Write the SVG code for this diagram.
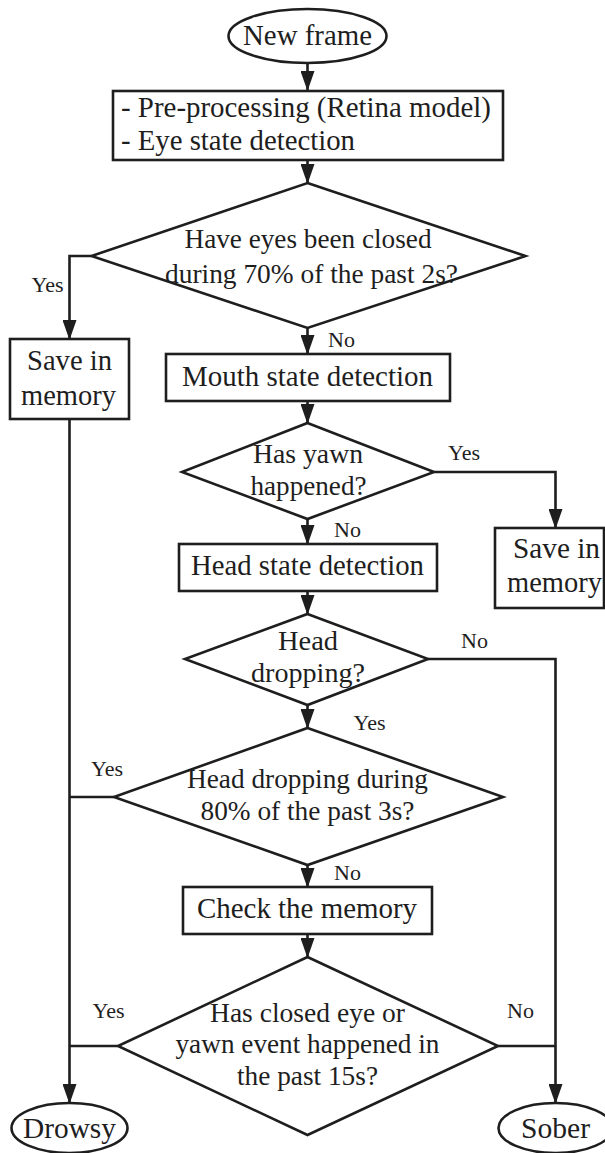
<svg xmlns="http://www.w3.org/2000/svg" width="605" height="1153" viewBox="0 0 605 1153">
<style>
.s{fill:#fff;stroke:#1e1e1e;stroke-width:2.6}
.t{font-family:"Liberation Serif","Times New Roman",serif;font-size:29px;fill:#1e1e1e;text-anchor:middle}
.d{font-size:27.5px}
.l{font-family:"Liberation Serif","Times New Roman",serif;font-size:22px;fill:#1e1e1e;text-anchor:middle}
.c{fill:none;stroke:#1e1e1e;stroke-width:2.6}
</style>
<defs>
<marker id="b" markerUnits="userSpaceOnUse" markerWidth="20" markerHeight="14" refX="19" refY="7" orient="auto" viewBox="0 0 20 14">
<path d="M0,0 L20,7 L0,14 Z" fill="#1e1e1e"/>
</marker>
</defs>
<rect width="605" height="1153" fill="#fff"/>
<g id="connectors">
<path class="c" d="M307.5,63 V90" marker-end="url(#b)"/>
<path class="c" d="M307.5,160 V183" marker-end="url(#b)"/>
<path class="c" d="M91.5,256 H69.5 V339" marker-end="url(#b)"/>
<path class="c" d="M307.5,328 V354" marker-end="url(#b)"/>
<path class="c" d="M307.5,401 V423" marker-end="url(#b)"/>
<path class="c" d="M434,472 H555.5 V528" marker-end="url(#b)"/>
<path class="c" d="M307.5,519 V544" marker-end="url(#b)"/>
<path class="c" d="M307.5,591 V614" marker-end="url(#b)"/>
<path class="c" d="M428,659 H555.5 V1103" marker-end="url(#b)"/>
<path class="c" d="M307.5,705 V728" marker-end="url(#b)"/>
<path class="c" d="M69.5,419 V1103" marker-end="url(#b)"/>
<path class="c" d="M114,797 H69.5"/>
<path class="c" d="M307.5,865 V887" marker-end="url(#b)"/>
<path class="c" d="M307.5,934 V957" marker-end="url(#b)"/>
<path class="c" d="M118,1046 H69.5"/>
<path class="c" d="M498,1046 H555.5"/>
<text class="l" x="47.5" y="292">Yes</text>
<text class="l" x="341.5" y="347">No</text>
<text class="l" x="464" y="460">Yes</text>
<text class="l" x="347.5" y="537">No</text>
<text class="l" x="474.5" y="648">No</text>
<text class="l" x="369.5" y="730">Yes</text>
<text class="l" x="107" y="776">Yes</text>
<text class="l" x="347.5" y="880">No</text>
<text class="l" x="108.5" y="1018">Yes</text>
<text class="l" x="520.5" y="1018">No</text>
</g>
<g id="new-frame">
<ellipse class="s" cx="307.5" cy="36" rx="79" ry="27"/>
<text class="t" x="307.5" y="45" textLength="129" lengthAdjust="spacingAndGlyphs">New frame</text>
</g>
<g id="preprocessing">
<rect class="s" x="113" y="91" width="390" height="69"/>
<text class="t" x="121" y="117" style="text-anchor:start" textLength="370" lengthAdjust="spacingAndGlyphs">- Pre-processing (Retina model)</text>
<text class="t" x="121" y="150" style="text-anchor:start" textLength="234" lengthAdjust="spacingAndGlyphs">- Eye state detection</text>
</g>
<g id="eyes-closed">
<polygon class="s" points="307.5,183 525.5,256 307.5,328 91.5,256"/>
<text class="t d" x="308" y="248" textLength="247" lengthAdjust="spacingAndGlyphs">Have eyes been closed</text>
<text class="t d" x="311.5" y="283" textLength="293" lengthAdjust="spacingAndGlyphs">during 70% of the past 2s?</text>
</g>
<g id="save-left">
<rect class="s" x="10" y="339" width="119" height="80"/>
<text class="t" x="69.5" y="370" textLength="85" lengthAdjust="spacingAndGlyphs">Save in</text>
<text class="t" x="68.5" y="405" textLength="95" lengthAdjust="spacingAndGlyphs">memory</text>
</g>
<g id="mouth">
<rect class="s" x="166" y="354" width="284" height="47"/>
<text class="t" x="307.5" y="386" textLength="251" lengthAdjust="spacingAndGlyphs">Mouth state detection</text>
</g>
<g id="yawn">
<polygon class="s" points="307.5,423 434,472 307.5,519 182,472"/>
<text class="t d" x="308" y="463" textLength="110" lengthAdjust="spacingAndGlyphs">Has yawn</text>
<text class="t d" x="308.5" y="495" textLength="116" lengthAdjust="spacingAndGlyphs">happened?</text>
</g>
<g id="save-right">
<rect class="s" x="495" y="528" width="109" height="80"/>
<text class="t" x="556.5" y="558" textLength="87" lengthAdjust="spacingAndGlyphs">Save in</text>
<text class="t" x="554.5" y="592" textLength="95" lengthAdjust="spacingAndGlyphs">memory</text>
</g>
<g id="head-state">
<rect class="s" x="179" y="544" width="258" height="47"/>
<text class="t" x="307.5" y="575" textLength="233" lengthAdjust="spacingAndGlyphs">Head state detection</text>
</g>
<g id="head-dropping">
<polygon class="s" points="307.5,614 428,659 307.5,705 185,659"/>
<text class="t d" x="308" y="650" textLength="60" lengthAdjust="spacingAndGlyphs">Head</text>
<text class="t d" x="308" y="682" textLength="114" lengthAdjust="spacingAndGlyphs">dropping?</text>
</g>
<g id="head-dropping-80">
<polygon class="s" points="307.5,728 503,797 307.5,865 114,797"/>
<text class="t d" x="307.5" y="788" textLength="241" lengthAdjust="spacingAndGlyphs">Head dropping during</text>
<text class="t d" x="307.5" y="820" textLength="214" lengthAdjust="spacingAndGlyphs">80% of the past 3s?</text>
</g>
<g id="check-memory">
<rect class="s" x="183" y="887" width="249" height="47"/>
<text class="t" x="307" y="918" textLength="220" lengthAdjust="spacingAndGlyphs">Check the memory</text>
</g>
<g id="event-15s">
<polygon class="s" points="307.5,957 498,1046 307.5,1135 118,1046"/>
<text class="t d" x="307.5" y="1022" textLength="195" lengthAdjust="spacingAndGlyphs">Has closed eye or</text>
<text class="t d" x="307.5" y="1053" textLength="264" lengthAdjust="spacingAndGlyphs">yawn event happened in</text>
<text class="t d" x="307.5" y="1085" textLength="141" lengthAdjust="spacingAndGlyphs">the past 15s?</text>
</g>
<g id="drowsy">
<ellipse class="s" cx="69.5" cy="1128" rx="58" ry="25"/>
<text class="t" x="69.5" y="1138" textLength="93" lengthAdjust="spacingAndGlyphs">Drowsy</text>
</g>
<g id="sober">
<ellipse class="s" cx="555.5" cy="1128" rx="57" ry="25"/>
<text class="t" x="555.5" y="1138" textLength="69" lengthAdjust="spacingAndGlyphs">Sober</text>
</g>
</svg>
